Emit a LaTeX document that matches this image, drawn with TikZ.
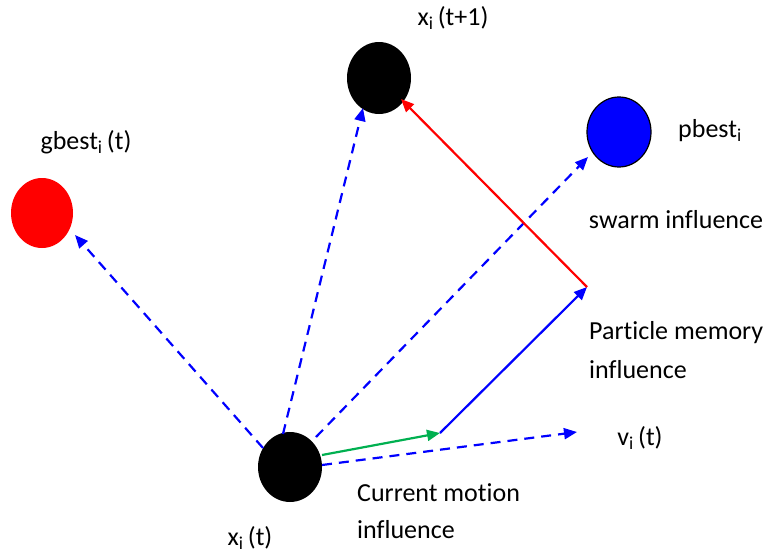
\documentclass[tikz,border=0pt]{standalone}
\usepackage{fontspec}
\setmainfont{Carlito}[Ligatures=NoCommon]
\usetikzlibrary{arrows.meta,shapes.geometric}
\definecolor{offgreen}{RGB}{0,176,80}
\begin{document}
\begin{tikzpicture}[x=1pt,y=-1pt,
  ball/.style={ellipse,minimum width=64pt,minimum height=70pt,inner sep=0pt},
  lbl/.style={font=\fontsize{26}{30}\selectfont,inner sep=0pt},
  tip/.style={-{Triangle[length=13pt,width=11pt]}},
  dashline/.style={tip,draw=blue,line width=2.2pt,dash pattern=on 10pt off 7pt},
  solid2/.style={tip,line width=2.2pt}]
\useasboundingbox (0,0) rectangle (768,554);
\node[ball,fill=black] (xt) at (290,467) {};
\node[ball,fill=black,minimum height=72pt] (xt1) at (379,78) {};
\node[ball,fill=blue,draw=black,line width=1.2pt] (pb) at (619,132) {};
\node[ball,fill=red,minimum width=62pt] (gb) at (42,213) {};
\coordinate (gs) at (322,455);
\coordinate (g1) at (440,433);
\coordinate (b1) at (587,287);
\coordinate (re) at (401,99);
\coordinate (gbe) at (75,235);
\coordinate (xte) at (363,108);
\coordinate (pbe) at (588,157);
\coordinate (ve) at (577,432);
\coordinate (s1) at (263,448);
\coordinate (s2) at (283,434);
\coordinate (s3) at (316,437);
\coordinate (s4) at (322,465);
\draw[dashline] (s1) -- (gbe);
\draw[dashline] (s2) -- (xte);
\draw[dashline] (s3) -- (pbe);
\draw[dashline] (s4) -- (ve);
\draw[solid2,draw=offgreen] (gs) -- (g1);
\draw[solid2,draw=blue] (g1) -- (b1);
\draw[solid2,draw=red] (b1) -- (re);
\node[lbl] (lxt1) at (453,18) {x\textsubscript{i}\,(t+1)};
\node[lbl] (lgb) at (86,142) {gbest\textsubscript{i}\,(t)};
\node[lbl] (lpb) at (710,131) {pbest\textsubscript{i}};
\node[lbl] (lsw) at (676,220) {swarm influence};
\node[lbl,anchor=west] (lpm) at (589,333) {Particle memory};
\node[lbl,anchor=west] (lpm2) at (589,370) {influence};
\node[lbl] (lv) at (640,438) {v\textsubscript{i}\,(t)};
\node[lbl,anchor=west] (lcm) at (357,493) {Current motion};
\node[lbl,anchor=west] (lcm2) at (357,530) {influence};
\node[lbl] (lxt) at (250,538) {x\textsubscript{i}\,(t)};
\end{tikzpicture}
\end{document}
